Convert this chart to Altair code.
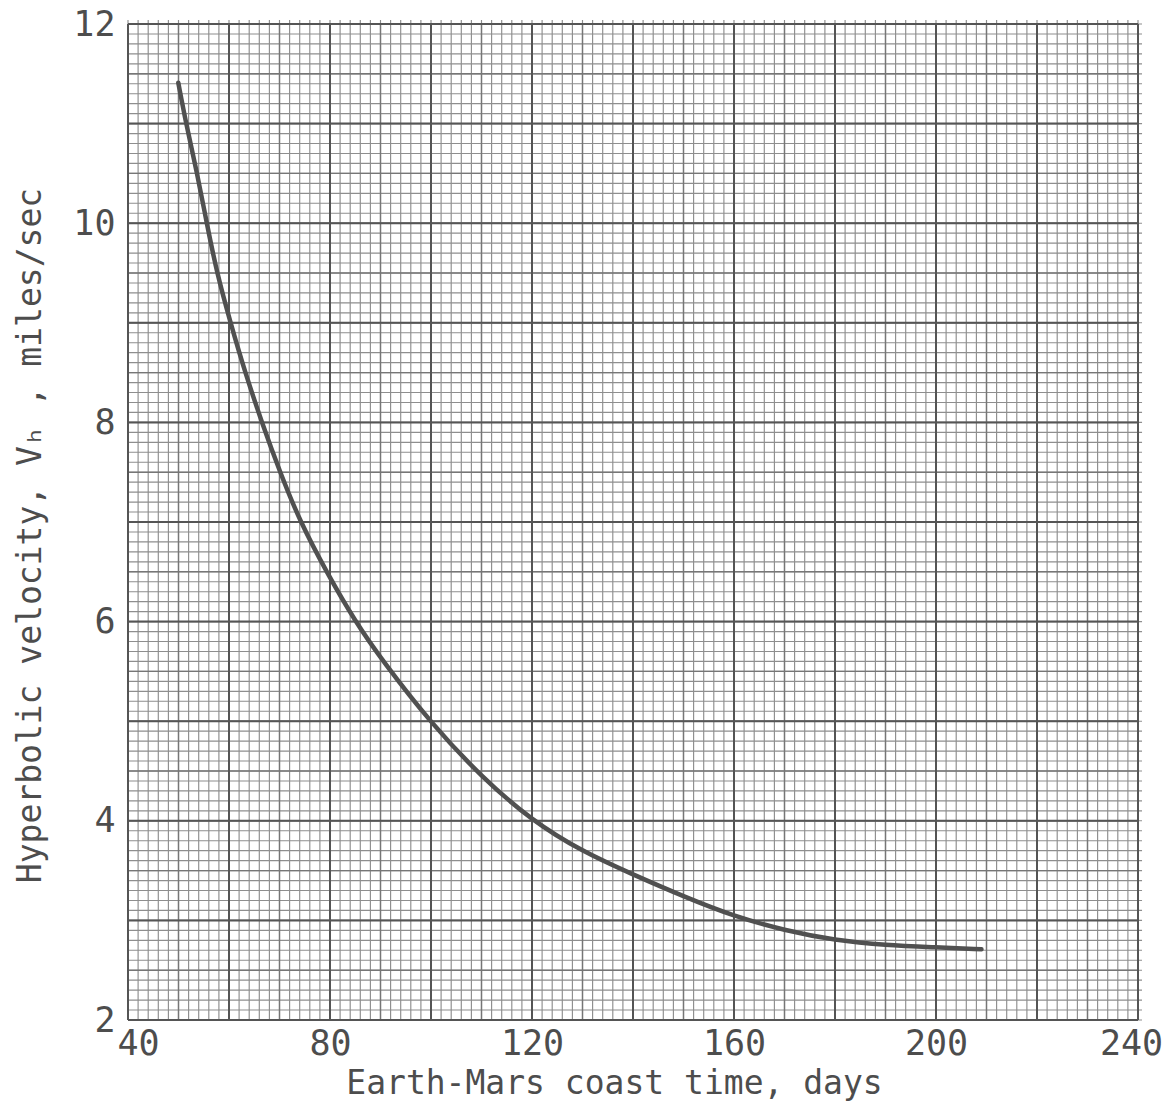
import altair as alt
import pandas as pd
import numpy as np

# Curve
coast_days = [49.96, 51.5, 53.7, 55.6, 57.6, 60.3, 63.2, 66.5, 70.1, 74.1, 79.3, 85.0,
              90.5, 100.0, 110.0, 120.0, 130.0, 140.0, 150.0, 160.0, 170.0, 180.0,
              190.0, 200.0, 209.0]
hyp_vel = [11.41, 11.0, 10.5, 10.0, 9.5, 9.0, 8.5, 8.0, 7.5, 7.0, 6.5, 6.0,
           5.6, 4.98, 4.44, 4.0, 3.69, 3.46, 3.24, 3.04, 2.90, 2.80,
           2.75, 2.73, 2.71]

x_ticks = [40, 80, 120, 160, 200, 240]
y_ticks = [2, 4, 6, 8, 10, 12]

X_MIN, X_MAX = 40, 240
Y_MIN, Y_MAX = 2, 12

# graph-paper grid values
minor_x = [float(v) for v in np.arange(X_MIN, X_MAX + 0.001, 2.0)]
mid_x = [float(v) for v in np.arange(X_MIN, X_MAX + 0.001, 10.0)]
major_x = [float(v) for v in np.arange(X_MIN, X_MAX + 0.001, 20.0)]
minor_y = [round(float(v), 2) for v in np.arange(Y_MIN, Y_MAX + 0.001, 0.1)]
mid_y = [round(float(v), 2) for v in np.arange(Y_MIN, Y_MAX + 0.001, 0.5)]
major_y = [round(float(v), 2) for v in np.arange(Y_MIN, Y_MAX + 0.001, 1.0)]

TEXT = "#4d4d4d"
FONT = "DejaVu Sans Mono"

xs = alt.Scale(domain=[X_MIN, X_MAX], nice=False, zero=False)
ys = alt.Scale(domain=[Y_MIN, Y_MAX], nice=False, zero=False)

X_AX = alt.Axis(
    values=x_ticks,
    title="Earth-Mars coast time, days",
    grid=False,
    domain=False,
    ticks=False,
    labelFlush=False,
    labelPadding=6,
    labelFontSize=35,
    labelFont=FONT,
    labelColor=TEXT,
    labelOffset=alt.expr("datum.value == 40 ? 10 : (datum.value == 240 ? -7 : 0)"),
    titleFont=FONT,
    titleFontSize=33,
    titleFontWeight="normal",
    titleColor=TEXT,
    titleX=486,
    titleY=63,
    titleBaseline="middle",
    titleAlign="center",
)

Y_AX = alt.Axis(
    values=y_ticks,
    title="Hyperbolic velocity, V\u2095 , miles/sec",
    grid=False,
    domain=False,
    ticks=False,
    labelFlush=False,
    labelPadding=13,
    labelFontSize=35,
    labelFont=FONT,
    labelColor=TEXT,
    titleFont=FONT,
    titleFontSize=33,
    titleFontWeight="normal",
    titleColor=TEXT,
    titleAngle=270,
    titleX=-98,
    titleY=511,
    titleBaseline="middle",
    titleAlign="center",
)


def vrules(vals, color, width, top):
    df = pd.DataFrame({"x": vals, "y0": float(Y_MIN), "y1": float(top)})
    return alt.Chart(df).mark_rule(color=color, strokeWidth=width, clip=False).encode(
        x=alt.X("x:Q", scale=xs, axis=X_AX),
        y=alt.Y("y0:Q", scale=ys, axis=Y_AX),
        y2="y1:Q",
    )


def hrules(vals, color, width, right):
    df = pd.DataFrame({"y": vals, "x0": float(X_MIN), "x1": float(right)})
    return alt.Chart(df).mark_rule(color=color, strokeWidth=width, clip=False).encode(
        y=alt.Y("y:Q", scale=ys, axis=Y_AX),
        x=alt.X("x0:Q", scale=xs, axis=X_AX),
        x2="x1:Q",
    )


grid = [
    vrules(minor_x, "#8e8e8e", 1.15, Y_MAX + 0.04),
    hrules(minor_y, "#8e8e8e", 1.15, X_MAX + 0.8),
    vrules(mid_x, "#767676", 1.4, Y_MAX),
    hrules(mid_y, "#767676", 1.4, X_MAX),
    vrules(major_x, "#555555", 2.0, Y_MAX),
    hrules(major_y, "#555555", 2.0, X_MAX),
]

curve_df = pd.DataFrame({"days": coast_days, "vh": hyp_vel})
curve = alt.Chart(curve_df).mark_line(
    color="#505050", strokeWidth=4.5, interpolate="basis", strokeCap="round"
).encode(
    x=alt.X("days:Q", scale=xs, axis=X_AX),
    y=alt.Y("vh:Q", scale=ys, axis=Y_AX),
)

chart = alt.layer(*grid, curve).properties(
    width=1010,
    height=996,
    autosize=alt.AutoSizeParams(type="none"),
    padding={"left": 128, "top": 24, "right": 36, "bottom": 89},
    background="white",
).configure_view(stroke=None)

chart.save("out.html", embed_options={"renderer": "svg", "actions": False})
